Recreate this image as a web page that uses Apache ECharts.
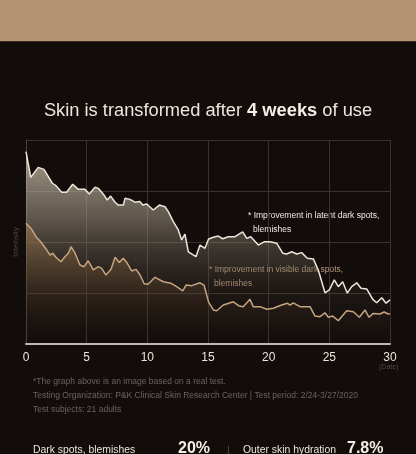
<!DOCTYPE html>
<html><head><meta charset="utf-8">
<script src="https://cdn.jsdelivr.net/npm/echarts@6/dist/echarts.min.js"></script>
<style>html,body{margin:0;padding:0;background:#120c0b;}#c{width:416px;height:454px;}</style>
</head><body><div id="c"></div>
<script>
// Upper series: latent dark spots, blemishes
var latentDays = [0,0.39,1.01,1.48,2.17,2.47,2.94,3.35,3.85,4.31,4.86,5.22,5.69,5.96,6.43,6.70,6.98,7.34,7.61,8.02,8.16,8.57,8.98,9.40,9.62,9.95,10.49,10.99,11.46,11.73,12.14,12.55,12.83,13.10,13.38,14.01,14.34,14.75,15.05,15.44,15.85,16.21,16.67,17.23,17.86,18.19,18.52,19.15,19.62,20.11,20.66,21.16,21.49,21.90,22.31,22.72,23.18,23.68,24.09,24.64,25.00,25.41,25.74,26.10,26.48,26.84,27.26,27.61,28.08,28.58,28.90,29.32,29.67,30];
var latentValues = [94.3,81.7,86.6,85.6,78.8,77.6,74.4,74.4,78.3,75.8,75.8,73.5,76.8,76.3,73.0,70.6,72.5,69.5,68.1,68.1,71.4,70.9,69.5,69.8,68.1,68.6,65.7,68.1,67.3,64.9,60.0,55.9,51.0,53.8,45.2,42.8,48.5,46.9,51.5,52.3,52.9,51.6,52.6,52.6,55.0,51.8,52.6,48.5,50.1,50.1,49.4,44.5,44.1,45.2,44.1,44.8,42.0,41.7,36.3,25.1,26.5,31.4,28.1,30.5,24.9,28.1,30.0,27.3,27.0,21.9,20.2,22.7,20.0,21.6];
// Lower series: visible dark spots, blemishes
var visibleDays = [0,0.47,0.82,1.21,1.71,1.98,2.20,2.47,2.88,3.21,3.49,3.71,4.04,4.45,4.78,5.13,5.55,5.96,6.24,6.59,7.01,7.34,7.69,8.02,8.30,8.71,9.07,9.40,9.75,10.08,10.63,11.32,11.93,12.42,12.92,13.19,13.66,14.34,14.67,15.05,15.44,15.72,16.26,17.09,17.58,17.91,18.46,18.73,19.29,19.84,20.38,21.07,21.54,21.76,22.03,22.58,23.14,23.41,23.82,24.23,24.64,24.92,25.28,25.74,26.43,26.98,27.47,27.94,28.27,28.62,29.18,29.51,29.86,30];
var visibleValues = [59.2,56.2,52.6,50.1,46.1,43.6,44.5,42.5,40.3,42.8,44.5,47.7,44.5,38.7,37.9,40.8,36.3,37.9,37.1,33.8,36.6,42.5,40.0,42.0,40.0,35.8,36.6,33.8,29.4,29.4,32.7,30.5,29.8,28.1,26.1,28.9,28.6,30.0,28.9,20.5,16.7,16.3,19.1,20.7,18.6,18.3,21.9,18.3,18.3,17.0,17.5,19.1,20.0,19.1,20.2,18.3,18.3,18.3,13.7,13.4,15.3,13.1,13.7,11.4,16.3,15.8,13.1,16.7,13.1,15.0,14.7,15.7,14.7,14.7];
var xTicks = [0,5,10,15,20,25,30];

function pairs(xs, ys){ return xs.map(function(x,i){ return [x, ys[i]]; }); }

var chart = echarts.init(document.getElementById('c'));
var FONT = '"Liberation Sans", Arial, Helvetica, sans-serif';
chart.setOption({
  backgroundColor: '#120c0b',
  animation: false,
  textStyle: { fontFamily: FONT },
  title: {
    text: 'Skin is transformed after {b|4 weeks} of use',
    left: 'center', top: 97,
    textStyle: { color: '#ece6dc', fontSize: 18.3, fontWeight: 'normal', fontFamily: FONT,
      rich: { b: { color: '#f4efe6', fontSize: 18.3, fontWeight: 'bold', fontFamily: FONT } } }
  },
  grid: { left: 26, right: 26, top: 140, bottom: 110 },
  xAxis: {
    type: 'value', min: 0, max: 30, interval: 5,
    axisLine: { show: true, lineStyle: { color: '#bdb7b0', width: 2 } },
    axisTick: { show: false },
    axisLabel: { color: '#ebe5dc', fontSize: 12, margin: 8, fontFamily: FONT,
      formatter: function(v){ return xTicks.indexOf(v) >= 0 ? String(v) : ''; } },
    splitLine: { show: true, lineStyle: { color: '#3a3230', width: 1 } }
  },
  yAxis: {
    type: 'value', min: 0, max: 100, interval: 25,
    name: 'Intensity', nameLocation: 'middle', nameGap: 6, nameRotate: 90,
    nameTextStyle: { color: '#4a4340', fontSize: 8, fontFamily: FONT },
    axisLine: { show: true, lineStyle: { color: '#4a4240', width: 1 } },
    axisTick: { show: false },
    axisLabel: { show: false },
    splitLine: { show: true, lineStyle: { color: '#3a3230', width: 1 } }
  },
  series: [
    {
      type: 'line', name: 'latent', data: pairs(latentDays, latentValues),
      showSymbol: false, symbol: 'none', z: 3,
      lineStyle: { color: '#ece6d8', width: 1.5 },
      areaStyle: { origin: 'start', opacity: 1, color: new echarts.graphic.LinearGradient(0,0,0,1,[
        { offset: 0, color: 'rgba(215,205,182,0.75)' },
        { offset: 0.35, color: 'rgba(170,160,140,0.5)' },
        { offset: 0.7, color: 'rgba(90,82,70,0.2)' },
        { offset: 1, color: 'rgba(40,32,28,0)' }]) }
    },
    {
      type: 'line', name: 'visible', data: pairs(visibleDays, visibleValues),
      showSymbol: false, symbol: 'none', z: 4,
      lineStyle: { color: '#c6a47e', width: 1.5 },
      areaStyle: { origin: 'start', opacity: 1, color: new echarts.graphic.LinearGradient(0,0,0,1,[
        { offset: 0, color: 'rgba(160,122,80,0.6)' },
        { offset: 0.5, color: 'rgba(110,82,52,0.3)' },
        { offset: 1, color: 'rgba(60,40,25,0)' }]) }
    }
  ],
  graphic: [
    { type: 'rect', left: 0, top: 0, shape: { width: 416, height: 41 }, style: { fill: '#b39470' } },
    { type: 'rect', left: 0, top: 41, shape: { width: 416, height: 1 }, style: { fill: '#3a2a1e' } },
    { type: 'text', left: 248, top: 211, style: { text: '* Improvement in latent dark spots,', fill: '#f0ebe2', fontSize: 8.5, fontFamily: FONT } },
    { type: 'text', left: 253, top: 225, style: { text: 'blemishes', fill: '#f0ebe2', fontSize: 8.5, fontFamily: FONT } },
    { type: 'text', left: 209, top: 265, style: { text: '* Improvement in visible dark spots,', fill: '#b8977a', fontSize: 8.5, fontFamily: FONT } },
    { type: 'text', left: 214, top: 279, style: { text: 'blemishes', fill: '#b8977a', fontSize: 8.5, fontFamily: FONT } },
    { type: 'text', left: 379, top: 364, style: { text: '(Date)', fill: '#4e4844', fontSize: 7, fontFamily: FONT } },
    { type: 'text', left: 33, top: 377, style: { text: '*The graph above is an image based on a real test.', fill: '#6a6460', fontSize: 8.5, fontFamily: FONT } },
    { type: 'text', left: 33, top: 391, style: { text: 'Testing Organization: P&K Clinical Skin Research Center | Test period: 2/24-3/27/2020', fill: '#6a6460', fontSize: 8.5, fontFamily: FONT } },
    { type: 'text', left: 33, top: 405, style: { text: 'Test subjects: 21 adults', fill: '#6a6460', fontSize: 8.5, fontFamily: FONT } },
    { type: 'text', left: 33, top: 445, style: { text: 'Dark spots, blemishes', fill: '#ece6dc', fontSize: 10.4, fontFamily: FONT } },
    { type: 'text', left: 178, top: 441, style: { text: '20%', fill: '#f4efe6', fontSize: 16, fontWeight: 'bold', fontFamily: FONT } },
    { type: 'rect', left: 228, top: 446, shape: { width: 1, height: 10 }, style: { fill: '#4a4340' } },
    { type: 'text', left: 243, top: 445, style: { text: 'Outer skin hydration', fill: '#ece6dc', fontSize: 10.4, fontFamily: FONT } },
    { type: 'text', left: 347, top: 441, style: { text: '7.8%', fill: '#f4efe6', fontSize: 16, fontWeight: 'bold', fontFamily: FONT } }
  ]
});
</script></body></html>
